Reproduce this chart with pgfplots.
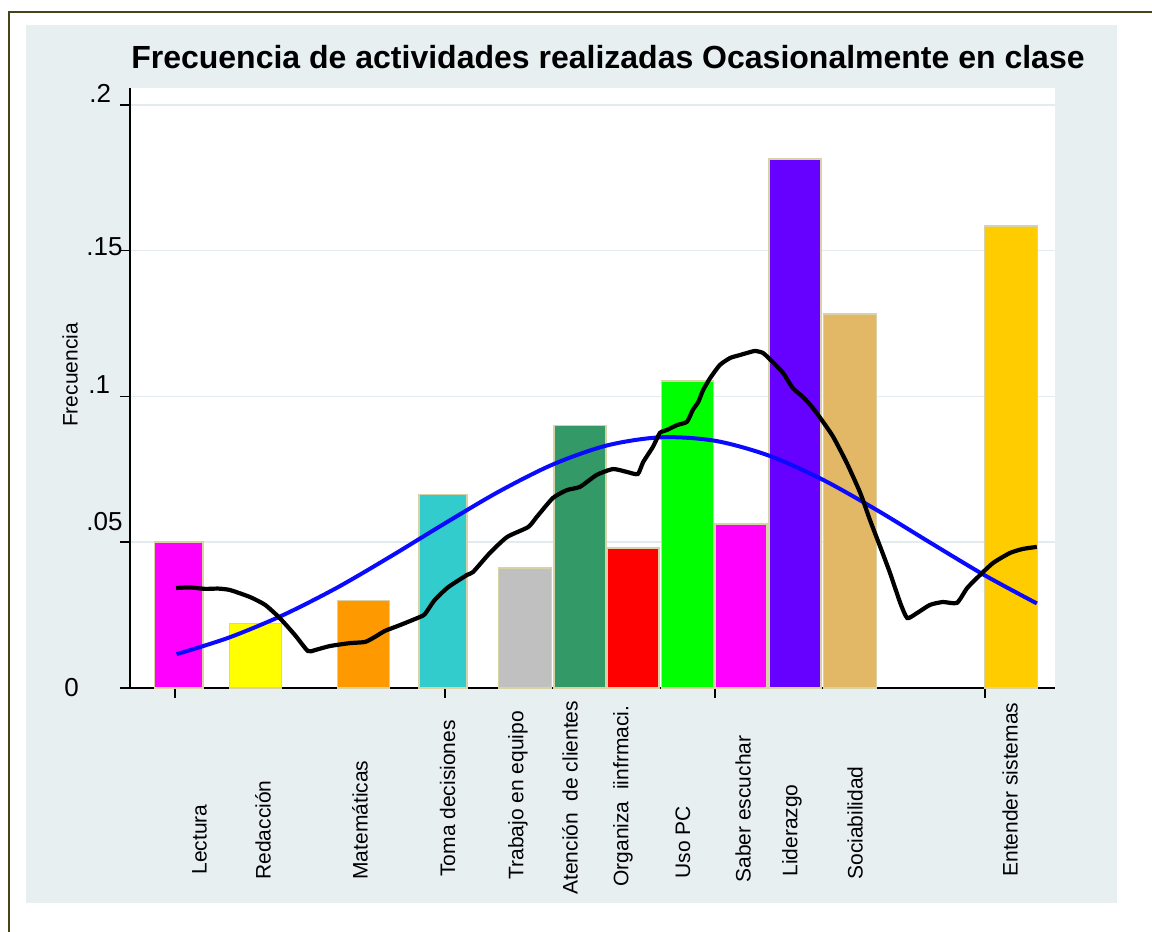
\documentclass[border=0pt]{standalone}
\usepackage{pgfplots}
\pgfplotsset{compat=1.18}
\usepackage{fontspec}
\setmainfont{Liberation Sans}
\definecolor{panel}{HTML}{E8EFF1}
\definecolor{framec}{HTML}{45451A}
\definecolor{gridc}{HTML}{E3EBEE}
\definecolor{barline}{HTML}{D8D2A6}
\definecolor{cmag}{HTML}{FF00FF}
\definecolor{cyel}{HTML}{FFFF00}
\definecolor{cora}{HTML}{FF9900}
\definecolor{cteal}{HTML}{33CCCC}
\definecolor{cgray}{HTML}{C0C0C0}
\definecolor{csea}{HTML}{339966}
\definecolor{cred}{HTML}{FF0000}
\definecolor{clime}{HTML}{00FF00}
\definecolor{cpur}{HTML}{6600FF}
\definecolor{ctan}{HTML}{E2B866}
\definecolor{cgold}{HTML}{FFCC00}
\definecolor{cblue}{HTML}{0A0AFF}
\newcommand{\lab}{\fontsize{10.5pt}{12pt}\selectfont}
\newcommand{\tlab}{\fontsize{13pt}{15pt}\selectfont}
\begin{document}
\begin{tikzpicture}
\begin{scope}[x=0.5pt,y=-0.5pt]
\useasboundingbox (0,0) rectangle (1152,932);
\fill[panel] (26,25) rectangle (1117,903);
\draw[framec, line width=1pt] (9,932) -- (9,12) -- (1152,12);
\end{scope}
\begin{axis}[
  at={(65pt,-344pt)}, anchor=south west,
  width=462.5pt, height=300pt, scale only axis,
  xmin=-0.833, xmax=16.296, ymin=0, ymax=0.2058,
  axis x line*=bottom, axis y line*=left,
  axis line style={-, line width=0.75pt, black},
  axis background/.style={fill=white},
  xtick={0,5,10,15}, xticklabels={},
  ytick={0,0.05,0.1,0.15,0.2}, yticklabels={},
  tick align=outside, major tick length=5pt,
  tick style={black, line width=0.75pt},
  ymajorgrids, grid style={gridc, line width=0.75pt},
]
\addplot[ybar, bar shift=0pt, bar width=0.90, fill=cmag, draw=barline, line width=0.75pt] coordinates {(0.07,0.0500)};
\addplot[ybar, bar shift=0pt, bar width=0.97, fill=cyel, draw=barline, line width=0.75pt] coordinates {(1.49,0.0222)};
\addplot[ybar, bar shift=0pt, bar width=0.97, fill=cora, draw=barline, line width=0.75pt] coordinates {(3.49,0.0300)};
\addplot[ybar, bar shift=0pt, bar width=0.89, fill=cteal, draw=barline, line width=0.75pt] coordinates {(4.96,0.0663)};
\addplot[ybar, bar shift=0pt, bar width=0.98, fill=cgray, draw=barline, line width=0.75pt] coordinates {(6.48,0.0411)};
\addplot[ybar, bar shift=0pt, bar width=0.96, fill=csea, draw=barline, line width=0.75pt] coordinates {(7.50,0.0900)};
\addplot[ybar, bar shift=0pt, bar width=0.96, fill=cred, draw=barline, line width=0.75pt] coordinates {(8.48,0.0481)};
\addplot[ybar, bar shift=0pt, bar width=0.97, fill=clime, draw=barline, line width=0.75pt] coordinates {(9.49,0.1053)};
\addplot[ybar, bar shift=0pt, bar width=0.96, fill=cmag, draw=barline, line width=0.75pt] coordinates {(10.48,0.0563)};
\addplot[ybar, bar shift=0pt, bar width=0.96, fill=cpur, draw=barline, line width=0.75pt] coordinates {(11.48,0.1814)};
\addplot[ybar, bar shift=0pt, bar width=0.98, fill=ctan, draw=barline, line width=0.75pt] coordinates {(12.50,0.1283)};
\addplot[ybar, bar shift=0pt, bar width=0.98, fill=cgold, draw=barline, line width=0.75pt] coordinates {(15.48,0.1585)};
% normal density (blue)
\addplot[cblue, line width=2pt, smooth] coordinates {
(0.03,0.0116)(1,0.0173)(2,0.0250)(3,0.0344)(4,0.0452)(5,0.0565)(6,0.0674)
(7,0.0767)(8,0.0832)(9,0.0860)(10,0.0848)(11,0.0797)(12,0.0714)(13,0.0610)
(14,0.0497)(15,0.0386)(15.96,0.0290)};
% kernel density (black)
\addplot[black, line width=2.1pt, smooth, tension=0.35] coordinates {
(0.02,0.0343)(0.28,0.0345)(0.56,0.0340)(0.80,0.0341)(1.02,0.0336)(1.39,0.0312)
(1.67,0.0285)(1.94,0.0240)(2.22,0.0182)(2.46,0.0127)(2.59,0.0130)(2.87,0.0144)
(3.24,0.0154)(3.52,0.0158)(3.70,0.0175)(3.89,0.0196)(4.17,0.0216)(4.54,0.0244)
(4.63,0.0254)(4.81,0.0302)(5.06,0.0346)(5.41,0.0388)(5.52,0.0398)(5.83,0.0463)
(6.15,0.0518)(6.54,0.0552)(6.70,0.0587)(7.00,0.0652)(7.26,0.0679)(7.50,0.0690)
(7.81,0.0731)(8.11,0.0751)(8.37,0.0741)(8.57,0.0734)(8.67,0.0775)(8.85,0.0827)
(8.98,0.0875)(9.11,0.0885)(9.30,0.0902)(9.48,0.0913)(9.59,0.0954)(9.69,0.0981)
(9.78,0.1022)(9.91,0.1063)(10.09,0.1108)(10.28,0.1132)(10.46,0.1142)(10.59,0.1149)
(10.74,0.1156)(10.89,0.1149)(11.07,0.1118)(11.26,0.1081)(11.44,0.1029)(11.63,0.0998)
(11.81,0.0961)(12.00,0.0913)(12.19,0.0861)(12.44,0.0772)(12.69,0.0669)(12.87,0.0576)
(13.06,0.0484)(13.24,0.0395)(13.43,0.0292)(13.56,0.0240)(13.74,0.0257)(13.98,0.0285)
(14.22,0.0295)(14.48,0.0292)(14.67,0.0343)(14.91,0.0388)(15.15,0.0429)(15.46,0.0463)
(15.70,0.0477)(15.96,0.0484)};
\end{axis}
\begin{scope}[x=0.5pt,y=-0.5pt]
\node[anchor=base, inner sep=0pt] at (608,68) {\fontsize{16pt}{19pt}\selectfont\bfseries Frecuencia de actividades realizadas Ocasionalmente en clase};
\node[rotate=90, inner sep=0pt] at (70,375) {\lab Frecuencia};
\node[anchor=west, inner sep=0pt] at (89,93) {\tlab .2};
\node[anchor=west, inner sep=0pt] at (86,247) {\tlab .15};
\node[anchor=west, inner sep=0pt] at (88,385) {\tlab .1};
\node[anchor=west, inner sep=0pt] at (86,522) {\tlab .05};
\node[anchor=west, inner sep=0pt] at (64,688) {\tlab 0};
\foreach \cx/\by/\t in {199.5/875/Lectura, 263/880/Redacción, 360/880/Matemáticas,
  447.5/877/Toma decisiones, 518/880/Trabajo en equipo,
  570/895/Atención\ \ de clientes, 623/887/Organiza\ \ iinfrmaci.,
  683/879/Uso PC, 743/883/Saber escuchar, 792/877/Liderazgo,
  855/880/Sociabilidad, 1010/877/Entender sistemas}
  \node[rotate=90, anchor=west, inner sep=0pt] at (\cx,\by) {\lab \t};
\end{scope}
\end{tikzpicture}
\end{document}
